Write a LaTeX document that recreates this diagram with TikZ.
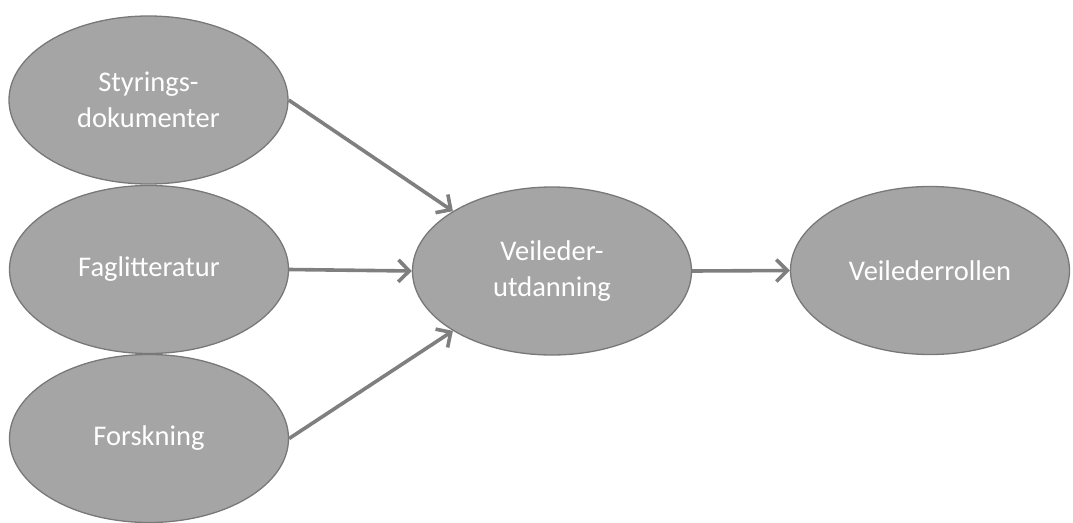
\documentclass[tikz,border=0pt]{standalone}
\usepackage{fontspec}
\setmainfont{Carlito}
\usetikzlibrary{shapes.geometric,arrows.meta}
\definecolor{efill}{HTML}{A5A5A5}
\definecolor{edraw}{HTML}{787878}
\definecolor{arr}{HTML}{7F7F7F}
\begin{document}
\begin{tikzpicture}[x=1pt,y=-1pt,
  oval/.style={ellipse, draw=edraw, line width=1.3pt, fill=efill, minimum width=279pt, minimum height=168pt, inner sep=0pt, text=white, font=\fontsize{28.5}{36}\selectfont, align=center},
  conn/.style={draw=arr, line width=3.6pt, -{Straight Barb[length=11pt,width=22pt,line width=3.6pt]}}]
\useasboundingbox (0,0) rectangle (1073,522);
\node[oval] (s) at (148.5,100) {Styrings-\\dokumenter};
\node[oval] (f) at (149,269.5) {Faglitteratur};
\node[oval] (fo) at (149,438.5) {Forskning};
\node[oval] (v) at (552,271) {Veileder-\\utdanning};
\node[oval] (r) at (930,270.5) {Veilederrollen};
\draw[conn] (s.east) -- (v.north west);
\draw[conn] (f.east) -- (v.west);
\draw[conn] (fo.east) -- (v.south west);
\draw[conn] (v.east) -- (r.west);
\end{tikzpicture}
\end{document}
